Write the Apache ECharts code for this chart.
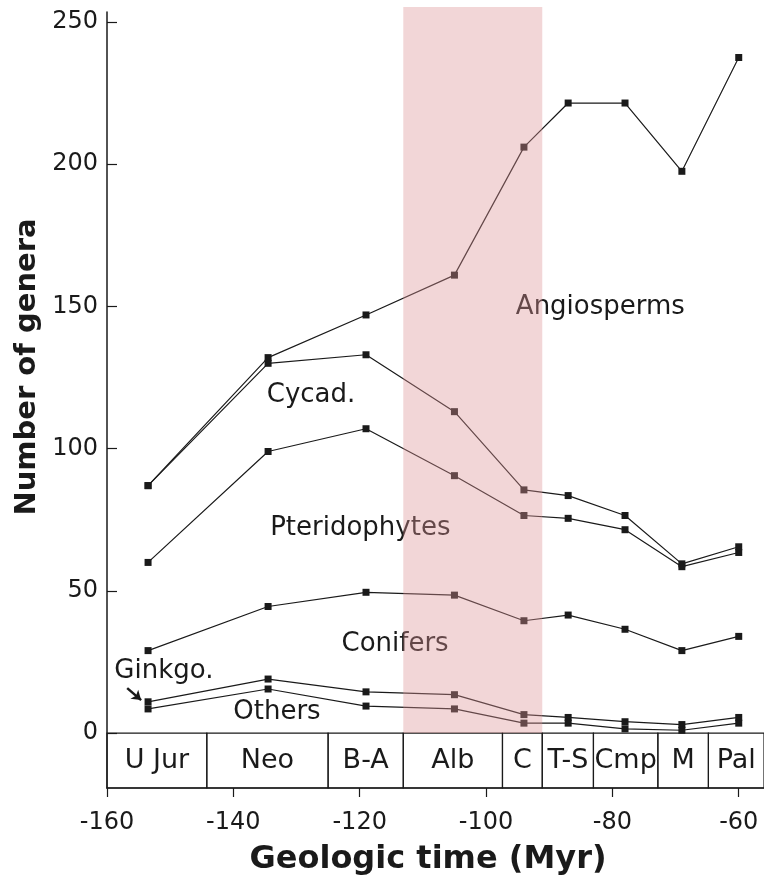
<!DOCTYPE html>
<html>
<head>
<meta charset="utf-8">
<script src="https://cdn.jsdelivr.net/npm/echarts@6/dist/echarts.min.js"></script>
<style>
  html, body { margin: 0; padding: 0; background: #fff; }
  #main { width: 764px; height: 888px; }
</style>
</head>
<body>
<div id="main"></div>
<script>
// stage midpoints (Myr)
const timeMyr = [-153.5, -134.5, -119, -105, -94, -87, -78, -69, -60];

// upper edge of each group's band (cumulative number of genera)
const angiospermsTop = [87, 132, 147, 161, 206, 221.5, 221.5, 197.5, 237.5];
const cycadTop = [87, 130, 133, 113, 85.5, 83.5, 76.5, 59.5, 65.5];
const pteridTop = [60, 99, 107, 90.5, 76.5, 75.5, 71.5, 58.5, 63.5];
const coniferTop = [29, 44.5, 49.5, 48.5, 39.5, 41.5, 36.5, 29, 34];
const ginkgoTop = [11, 19, 14.5, 13.5, 6.5, 5.5, 4, 3, 5.5];
const othersTop = [8.5, 15.5, 9.5, 8.5, 3.5, 3.5, 1.5, 1, 3.5];

// geologic stages
const stageNames = ['U Jur', 'Neo', 'B-A', 'Alb', 'C', 'T-S', 'Cmp', 'M', 'Pal'];
const stageBounds = [-160, -144.2, -125, -113.1, -97.4, -91.1, -83, -72.8, -64.8, -56];
const bandRange = [-113.1, -91.1]; // Albian-Cenomanian

const xTicks = [-160, -140, -120, -100, -80, -60];
const yTicks = [0, 50, 100, 150, 200, 250];

// group names placed inside their bands
const groupNames = ['Angiosperms', 'Cycad.', 'Pteridophytes', 'Conifers', 'Ginkgo.', 'Others'];
const groupLabelX = [-81.9, -127.7, -119.9, -114.4, -151, -133.1];
const groupLabelY = [149.8, 118.8, 72.1, 31.3, 21.8, 7.4];

const yMin = -19.3, yMax = 253.5;
const ink = '#1a1a1a';
const font = 'DejaVu Sans';

const chart = echarts.init(document.getElementById('main'), null, { renderer: 'canvas' });

const lineSeries = (name, vals) => ({
  name,
  type: 'line',
  data: timeMyr.map((t, i) => [t, vals[i]]),
  symbol: 'rect',
  symbolSize: 7,
  showSymbol: true,
  lineStyle: { color: ink, width: 1.2 },
  itemStyle: { color: ink },
  z: 3,
  silent: true
});

const ginkgo = lineSeries('Ginkgo.', ginkgoTop);
ginkgo.markLine = {
  silent: true,
  symbol: ['none', 'arrow'],
  symbolSize: 9,
  label: { show: false },
  lineStyle: { color: ink, width: 2.5, type: 'solid' },
  data: [[{ coord: [-156.8, 15.8] }, { coord: [-154.6, 11.6] }]]
};

const option = {
  animation: false,
  backgroundColor: '#fff',
  grid: { left: 107, right: 0, top: 12, bottom: 100 },
  xAxis: {
    type: 'value',
    min: -160,
    max: -56,
    axisLine: { show: true, onZero: false, lineStyle: { color: ink, width: 1.5 } },
    axisTick: { show: true, inside: false, length: 9, customValues: xTicks, lineStyle: { color: ink, width: 1.2 } },
    axisLabel: { customValues: xTicks, margin: 23, fontSize: 24, fontFamily: font, color: ink },
    splitLine: { show: false }
  },
  yAxis: {
    type: 'value',
    min: yMin,
    max: yMax,
    axisLine: { show: true, onZero: false, lineStyle: { color: ink, width: 1.5 } },
    axisTick: { show: true, inside: true, length: 10, customValues: yTicks, lineStyle: { color: ink, width: 1.2 } },
    axisLabel: { customValues: yTicks, margin: 9, fontSize: 24, fontFamily: font, color: ink },
    splitLine: { show: false }
  },
  series: [
    lineSeries('Angiosperms', angiospermsTop),
    lineSeries('Cycad.', cycadTop),
    lineSeries('Pteridophytes', pteridTop),
    lineSeries('Conifers', coniferTop),
    ginkgo,
    lineSeries('Others', othersTop),
    {
      name: 'labels',
      type: 'custom',
      silent: true,
      clip: false,
      data: groupNames.map((n, i) => [groupLabelX[i], groupLabelY[i]]),
      renderItem: (params, api) => {
        const p = api.coord([api.value(0), api.value(1)]);
        return {
          type: 'text',
          style: {
            text: groupNames[params.dataIndex],
            x: p[0], y: p[1],
            align: 'center', verticalAlign: 'middle',
            fontSize: 26, fontFamily: font, fill: ink
          }
        };
      },
      z: 4
    },
    {
      name: 'stages',
      type: 'custom',
      silent: true,
      clip: false,
      encode: { x: [0, 1] },
      data: stageNames.map((n, i) => [stageBounds[i], stageBounds[i + 1]]),
      renderItem: (params, api) => {
        const p0 = api.coord([api.value(0), 0]);
        const p1 = api.coord([api.value(1), yMin]);
        return {
          type: 'group',
          children: [
            {
              type: 'rect',
              shape: { x: p0[0], y: p0[1], width: p1[0] - p0[0], height: p1[1] - p0[1] },
              style: { fill: 'none', stroke: ink, lineWidth: 1.2 }
            },
            {
              type: 'text',
              style: {
                text: stageNames[params.dataIndex],
                x: (p0[0] + p1[0]) / 2, y: (p0[1] + p1[1]) / 2,
                align: 'center', verticalAlign: 'middle',
                fontSize: 27, fontFamily: font, fill: ink
              }
            }
          ]
        };
      },
      z: 5
    },
    {
      name: 'band',
      type: 'custom',
      silent: true,
      clip: false,
      encode: { x: [0, 1] },
      data: [bandRange],
      renderItem: (params, api) => {
        const a = api.coord([api.value(0), 0]);
        const b = api.coord([api.value(1), 0]);
        const top = params.coordSys.y - 5;
        return {
          type: 'rect',
          shape: { x: a[0], y: top, width: b[0] - a[0], height: a[1] - top },
          style: { fill: 'rgba(221,147,150,0.38)' }
        };
      },
      z: 10
    }
  ],
  graphic: [
    {
      type: 'text',
      x: 27, y: 367,
      rotation: Math.PI / 2,
      style: {
        text: 'Number of genera',
        align: 'center', verticalAlign: 'middle',
        fontSize: 29, fontWeight: 'bold', fontFamily: font, fill: ink
      }
    },
    {
      type: 'text',
      x: 428, y: 860,
      style: {
        text: 'Geologic time (Myr)',
        align: 'center', verticalAlign: 'middle',
        fontSize: 32, fontWeight: 'bold', fontFamily: font, fill: ink
      }
    }
  ]
};

chart.setOption(option);
</script>
</body>
</html>
